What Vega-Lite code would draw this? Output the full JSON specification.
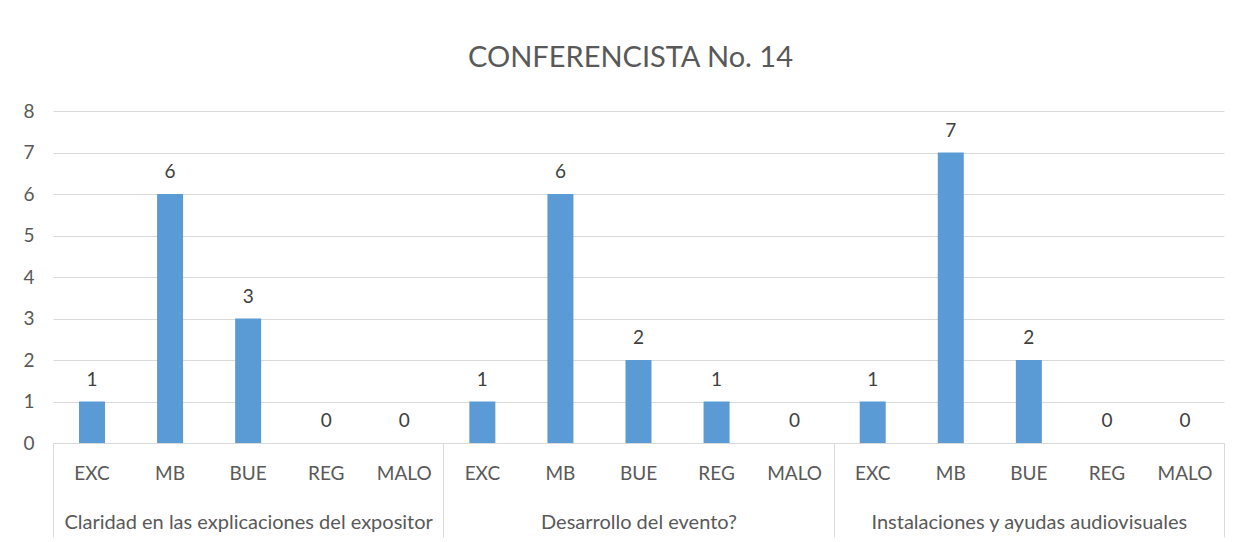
{
  "$schema": "https://vega.github.io/schema/vega-lite/v6.json",
  "width": 1171,
  "height": 332,
  "autosize": {"type": "none"},
  "padding": {"left": 53, "top": 111, "right": 17, "bottom": 99},
  "background": "white",
  "title": {
    "text": "CONFERENCISTA No. 14",
    "fontSize": 29,
    "font": "Lato",
    "fontWeight": "normal",
    "color": "#595959",
    "anchor": "middle",
    "frame": "group",
    "dx": -8,
    "offset": 29
  },
  "config": {
    "view": {"stroke": null},
    "font": "Lato"
  },
  "data": {
    "values": [
      {"id": "A-EXC", "grupo": "Claridad en las explicaciones del expositor", "nivel": "EXC", "valor": 1},
      {"id": "A-MB", "grupo": "Claridad en las explicaciones del expositor", "nivel": "MB", "valor": 6},
      {"id": "A-BUE", "grupo": "Claridad en las explicaciones del expositor", "nivel": "BUE", "valor": 3},
      {"id": "A-REG", "grupo": "Claridad en las explicaciones del expositor", "nivel": "REG", "valor": 0},
      {"id": "A-MALO", "grupo": "Claridad en las explicaciones del expositor", "nivel": "MALO", "valor": 0},
      {"id": "B-EXC", "grupo": "Desarrollo del evento?", "nivel": "EXC", "valor": 1},
      {"id": "B-MB", "grupo": "Desarrollo del evento?", "nivel": "MB", "valor": 6},
      {"id": "B-BUE", "grupo": "Desarrollo del evento?", "nivel": "BUE", "valor": 2},
      {"id": "B-REG", "grupo": "Desarrollo del evento?", "nivel": "REG", "valor": 1},
      {"id": "B-MALO", "grupo": "Desarrollo del evento?", "nivel": "MALO", "valor": 0},
      {"id": "C-EXC", "grupo": "Instalaciones y ayudas audiovisuales", "nivel": "EXC", "valor": 1},
      {"id": "C-MB", "grupo": "Instalaciones y ayudas audiovisuales", "nivel": "MB", "valor": 7},
      {"id": "C-BUE", "grupo": "Instalaciones y ayudas audiovisuales", "nivel": "BUE", "valor": 2},
      {"id": "C-REG", "grupo": "Instalaciones y ayudas audiovisuales", "nivel": "REG", "valor": 0},
      {"id": "C-MALO", "grupo": "Instalaciones y ayudas audiovisuales", "nivel": "MALO", "valor": 0}
    ]
  },
  "resolve": {"scale": {"x": "independent"}, "axis": {"x": "independent"}},
  "layer": [
    {
      "mark": {"type": "bar", "color": "#5B9BD5"},
      "encoding": {
        "x": {
          "field": "id", "type": "nominal", "sort": null,
          "scale": {"paddingInner": 0.667, "paddingOuter": 0.333},
          "axis": {
            "orient": "bottom", "title": null, "labelAngle": 0,
            "labelExpr": "split(datum.value, '-')[1]",
            "ticks": false, "tickSize": 0,
            "domain": true, "domainColor": "#d9d9d9", "domainWidth": 1,
            "labelFontSize": 19, "labelColor": "#595959", "labelPadding": 21,
            "labelFont": "Lato"
          }
        },
        "y": {
          "field": "valor", "type": "quantitative",
          "scale": {"domain": [0, 8], "nice": false},
          "axis": {
            "title": null, "values": [0, 1, 2, 3, 4, 5, 6, 7, 8],
            "domain": false, "ticks": false, "grid": true, "gridColor": "#d9d9d9", "gridWidth": 1,
            "labelFontSize": 19, "labelColor": "#595959", "labelPadding": 19,
            "labelFont": "Lato"
          }
        }
      }
    },
    {
      "mark": {"type": "text", "baseline": "bottom", "dy": -12, "fontSize": 19, "color": "#404040", "font": "Lato"},
      "encoding": {
        "x": {
          "field": "id", "type": "nominal", "sort": null,
          "scale": {"paddingInner": 0.667, "paddingOuter": 0.333},
          "axis": null
        },
        "y": {"field": "valor", "type": "quantitative"},
        "text": {"field": "valor", "type": "quantitative"}
      }
    },
    {
      "mark": {"type": "bar", "opacity": 0},
      "encoding": {
        "x": {
          "field": "grupo", "type": "nominal", "sort": null,
          "scale": {"paddingInner": 0, "paddingOuter": 0},
          "axis": {
            "orient": "bottom", "title": null, "labelAngle": 0,
            "domain": false, "ticks": true, "tickBand": "extent",
            "tickSize": 94, "tickColor": "#d9d9d9", "tickWidth": 1,
            "labelFontSize": 20, "labelColor": "#595959", "labelPadding": -25,
            "labelLimit": 1000,
            "labelFont": "Lato"
          }
        }
      }
    }
  ]
}
